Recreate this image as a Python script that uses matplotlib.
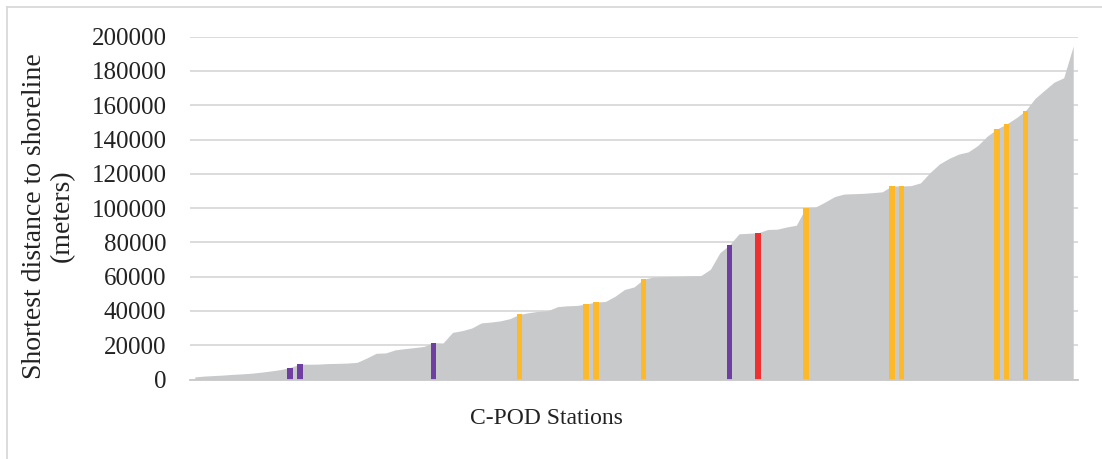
import numpy as np
import matplotlib.pyplot as plt
from matplotlib.lines import Line2D

# shortest distance to shoreline (m) for each C-POD station, sorted
distances = [
    1500, 2000, 2300, 2600, 3000, 3300, 3700, 4300, 5000, 5800,
    7000, 9000, 8900, 9000, 9300, 9400, 9600, 10000, 12500, 15300,
    15500, 17300, 18000, 18600, 19300, 21500, 21300, 27500, 28500, 30000,
    33000, 33500, 34200, 35500, 38000, 39000, 39800, 40200, 42500, 43000,
    43200, 44000, 45200, 45500, 48500, 52500, 54000, 58500, 59800, 60000,
    60200, 60300, 60500, 60600, 64300, 74000, 78500, 85000, 85300, 85600,
    87500, 87700, 89000, 90000, 100300, 100600, 103500, 106700, 108200, 108400,
    108600, 109000, 109500, 112900, 112900, 113100, 114700, 120700, 125800, 129000,
    131500, 132800, 136500, 142000, 146100, 149000, 152600, 156800, 164000, 168800,
    173500, 176000, 194500,
]

# highlighted stations (index into distances)
purple_idx = [10, 11, 25, 56]
orange_idx = [34, 41, 42, 47, 64, 73, 74, 84, 85, 87]
red_idx = [59]

area_color = "#C8C9CB"
purple = "#6E3FA0"
orange = "#FDB927"
red = "#EE3130"

plt.rcParams["font.family"] = ["Liberation Serif", "DejaVu Serif"]

W, H = 1102, 459
fig = plt.figure(figsize=(W / 100, H / 100), dpi=100)
ax = fig.add_axes([190 / W, (H - 379.5) / H, (1078 - 190) / W, 342.8 / H])

x = np.arange(len(distances))
d = np.array(distances)
ax.fill_between(x, d, 0, color=area_color, lw=0, zorder=2)

bw = 0.58
for idx, col in [(purple_idx, purple), (orange_idx, orange), (red_idx, red)]:
    ax.bar(idx, d[idx], width=bw, color=col, lw=0, zorder=3)

ax.set_xlim(-0.5, len(distances) - 0.5)
ax.set_ylim(0, 200000)
ax.set_yticks(np.arange(0, 200001, 20000))
ax.set_xticks([])
ax.yaxis.grid(True, color="#D9D9D9", lw=1.3, zorder=0)
ax.set_axisbelow(True)
for s in ["top", "right", "left"]:
    ax.spines[s].set_visible(False)
ax.spines["bottom"].set_color("#C8C8C8")
ax.spines["bottom"].set_linewidth(1.3)
ax.spines["bottom"].set_zorder(4)
ax.tick_params(axis="y", length=0, pad=17, labelsize=18, labelcolor="#222222")

fig.text(48 / W, 1 - 216 / H, "Shortest distance to shoreline\n(meters)",
         rotation=90, ha="center", va="center", multialignment="center",
         fontsize=20, linespacing=1.15, color="#222222")
fig.text(546 / W, 1 - 419 / H, "C-POD Stations", ha="center", va="center",
         fontsize=17, color="#222222")

# chart border (left and top edges visible in the frame)
fig.add_artist(Line2D([7 / W, 7 / W], [0, 1 - 7 / H], transform=fig.transFigure,
                      color="#D9D9D9", lw=1.3))
fig.add_artist(Line2D([7 / W, 1], [1 - 7 / H, 1 - 7 / H], transform=fig.transFigure,
                      color="#D9D9D9", lw=1.3))

fig.savefig("out.png", dpi=100)
